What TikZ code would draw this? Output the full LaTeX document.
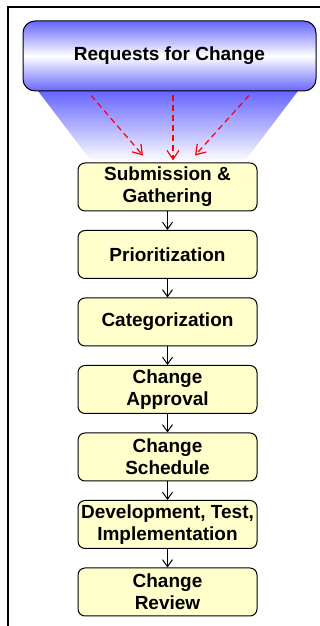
\documentclass[tikz,border=0pt]{standalone}
\usepackage{fontspec}
\setmainfont{Liberation Sans}
\usetikzlibrary{arrows.meta,positioning}
\definecolor{StepFill}{RGB}{255,255,204}
\definecolor{RfcBlue}{RGB}{102,102,255}

\tikzset{
  stepbox/.style={draw=black, line width=1pt, rounded corners=7pt, fill=StepFill,
    minimum width=179pt, minimum height=48pt, inner sep=0pt, align=center,
    font=\fontsize{19}{22}\selectfont\bfseries},
  flow/.style={draw=black, line width=1pt, -{Straight Barb[length=7pt,width=10pt]}},
  rfc/.style={draw=red, line width=1.2pt, dash pattern=on 6pt off 4pt,
    -{Straight Barb[length=9pt,width=12pt]}}
}

\begin{document}
\begin{tikzpicture}[x=1pt,y=1pt,node distance=18.5pt]
\useasboundingbox (0,0) rectangle (320,626);

% frame
\draw[line width=1.2pt] (320,619) -- (8,619) -- (8,0);

% light cone below the requests
\shade[top color=RfcBlue, bottom color=white] (38,535) -- (298,535) -- (244,464) -- (92,464) -- cycle;

\node[draw=black, line width=1pt, rounded corners=12pt, top color=RfcBlue, bottom color=RfcBlue,
  middle color=white, minimum width=293pt, minimum height=70pt,
  font=\fontsize{19}{22}\selectfont\bfseries] (req) at (169.5,570) {Requests for Change};

\node[stepbox] (sub) at (167.5,439) {Submission \&\\Gathering};
\node[stepbox, below=of sub] (pri) {Prioritization};
\node[stepbox, below=of pri] (cat) {Categorization};
\node[stepbox, below=of cat] (apr) {Change\\Approval};
\node[stepbox, below=of apr] (sch) {Change\\Schedule};
\node[stepbox, below=of sch] (dev) {Development, Test,\\Implementation};
\node[stepbox, below=of dev] (rev) {Change\\Review};

\foreach \a/\b in {sub/pri,pri/cat,cat/apr,apr/sch,sch/dev,dev/rev}
  \draw[flow] (\a.south) -- (\b.north);

% incoming requests
\draw[rfc] ([xshift=-78.5pt,yshift=-4pt]req.south) -- ([xshift=-24.5pt,yshift=7pt]sub.north);
\draw[rfc] ([xshift=3.5pt,yshift=-4pt]req.south) -- ([xshift=5.5pt,yshift=2pt]sub.north);
\draw[rfc] ([xshift=79.5pt,yshift=-4pt]req.south) -- ([xshift=27.5pt,yshift=7pt]sub.north);

\end{tikzpicture}
\end{document}
